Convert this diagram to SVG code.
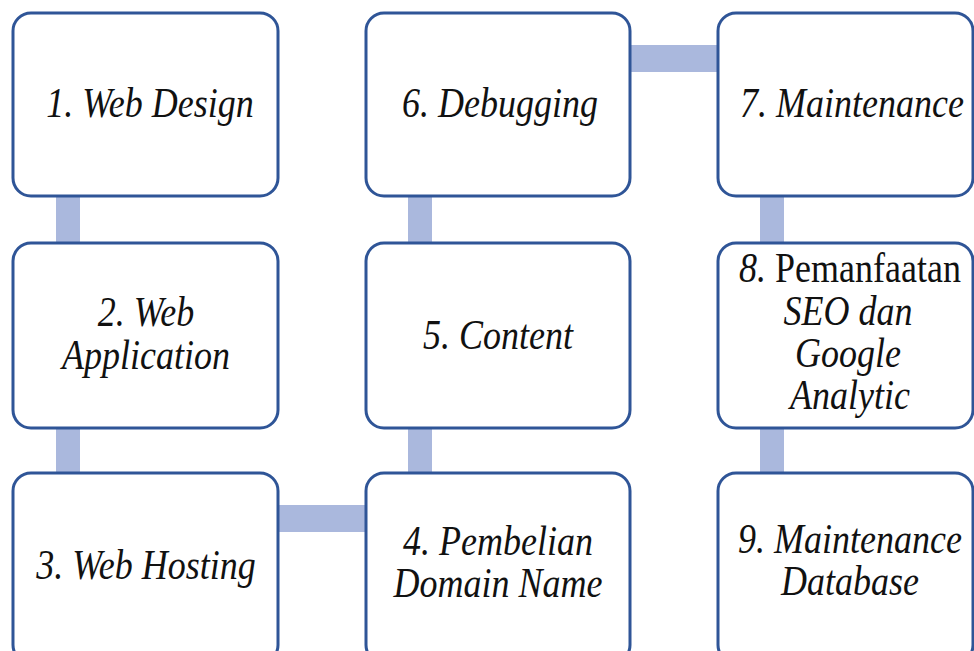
<svg xmlns="http://www.w3.org/2000/svg" width="974" height="651" viewBox="0 0 974 651">
  <style>
    .box { fill: #ffffff; stroke: #2F5597; stroke-width: 3; }
    .bar { fill: #AAB8DD; }
    .t { font-family: "Liberation Serif", "Times New Roman", serif; font-size: 36px; font-style: italic; text-anchor: middle; fill: #111111; }
    .up { font-style: normal; }
  </style>
  <rect width="974" height="651" fill="#ffffff"/>

  <!-- connectors between the steps -->
  <g id="connectors">
    <rect class="bar" x="56" y="190" width="24" height="60"/>
    <rect class="bar" x="56" y="420" width="24" height="60"/>
    <rect class="bar" x="272" y="505" width="100" height="27"/>
    <rect class="bar" x="408" y="420" width="24" height="60"/>
    <rect class="bar" x="408" y="190" width="24" height="60"/>
    <rect class="bar" x="624" y="45" width="100" height="27"/>
    <rect class="bar" x="760" y="190" width="24" height="60"/>
    <rect class="bar" x="760" y="420" width="24" height="60"/>
  </g>

  <g id="step1">
    <rect class="box" x="13" y="13" width="265" height="183" rx="18"/>
    <text class="t" transform="translate(150,117) scale(1,1.2)">1. Web Design</text>
  </g>
  <g id="step2">
    <rect class="box" x="13" y="243" width="265" height="185" rx="18"/>
    <text class="t" transform="translate(146,326) scale(1,1.2)">2. Web</text>
    <text class="t" transform="translate(146,369) scale(1,1.2)">Application</text>
  </g>
  <g id="step3">
    <rect class="box" x="13" y="473" width="265" height="190" rx="18"/>
    <text class="t" transform="translate(146,579) scale(1,1.2)">3. Web Hosting</text>
  </g>
  <g id="step4">
    <rect class="box" x="366" y="473" width="264" height="190" rx="18"/>
    <text class="t" transform="translate(498,555) scale(1,1.2)">4. Pembelian</text>
    <text class="t" transform="translate(498,597) scale(1,1.2)">Domain Name</text>
  </g>
  <g id="step5">
    <rect class="box" x="366" y="243" width="264" height="185" rx="18"/>
    <text class="t" transform="translate(498,349) scale(1,1.2)">5. Content</text>
  </g>
  <g id="step6">
    <rect class="box" x="366" y="13" width="264" height="183" rx="18"/>
    <text class="t" transform="translate(500,117) scale(1,1.2)">6. Debugging</text>
  </g>
  <g id="step7">
    <rect class="box" x="718" y="13" width="255" height="183" rx="18"/>
    <text class="t" transform="translate(852,117) scale(1,1.2)">7. Maintenance</text>
  </g>
  <g id="step8">
    <rect class="box" x="718" y="243" width="255" height="185" rx="18"/>
    <text class="t" transform="translate(850,282) scale(1,1.2)">8. <tspan class="up">Pemanfaatan</tspan></text>
    <text class="t" transform="translate(848,325) scale(1,1.2)">SEO dan</text>
    <text class="t" transform="translate(848,367) scale(1,1.2)">Google</text>
    <text class="t" transform="translate(850,409) scale(1,1.2)">Analytic</text>
  </g>
  <g id="step9">
    <rect class="box" x="718" y="473" width="255" height="190" rx="18"/>
    <text class="t" transform="translate(850,553) scale(1,1.2)">9. Maintenance</text>
    <text class="t" transform="translate(850,595) scale(1,1.2)">Database</text>
  </g>
</svg>
